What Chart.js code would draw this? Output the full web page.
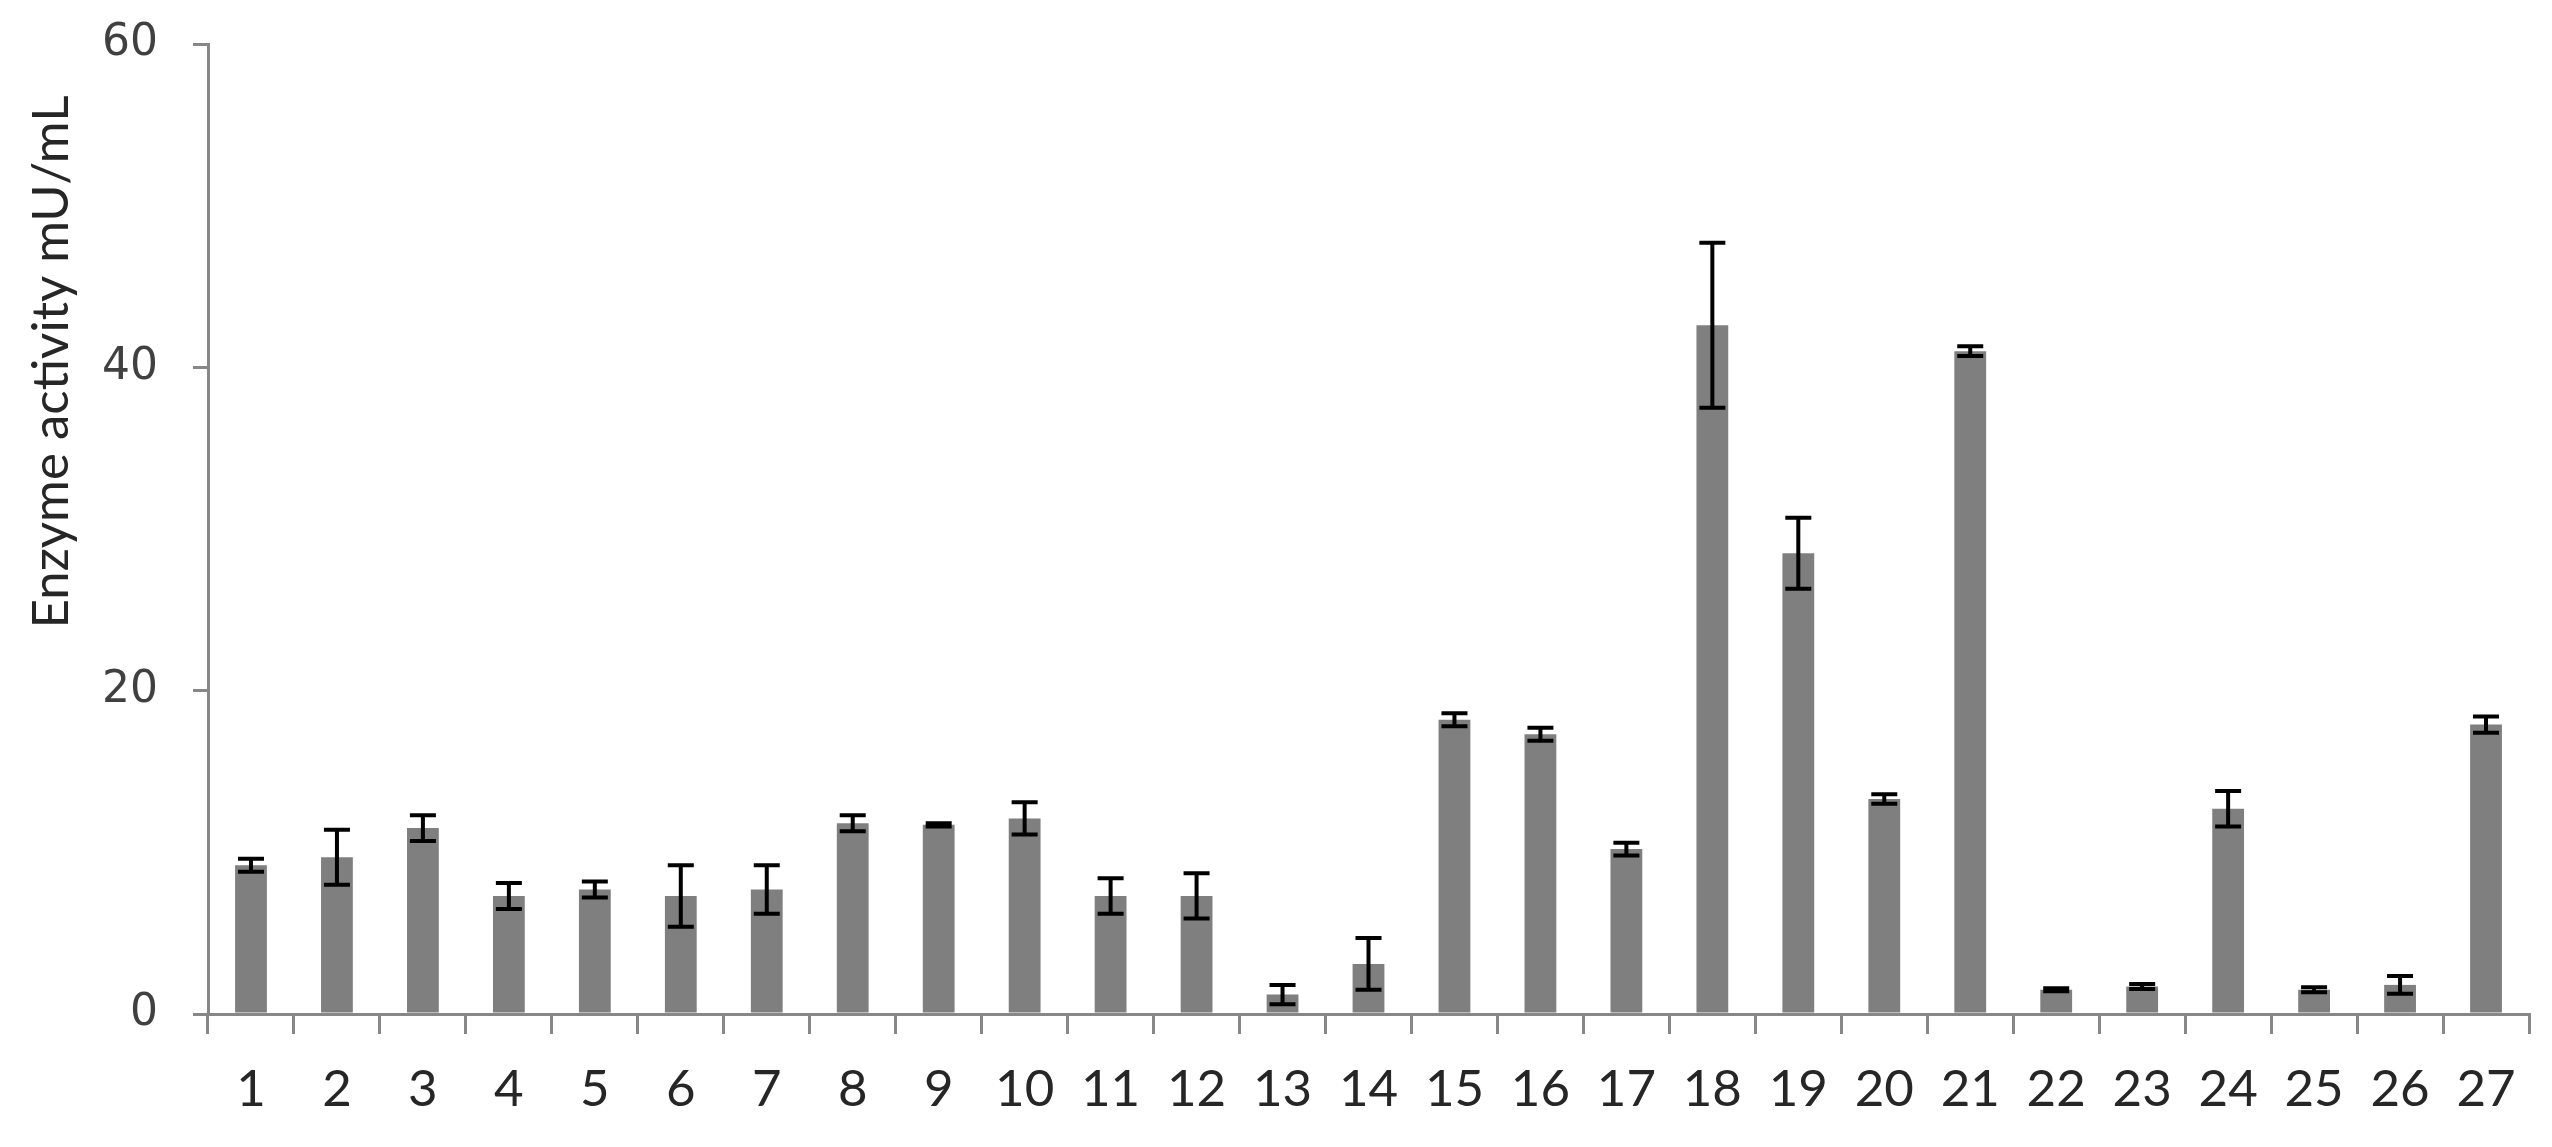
<!DOCTYPE html>
<html>
<head>
<meta charset="utf-8">
<script src="https://cdn.jsdelivr.net/npm/chart.js@4.4.1/dist/chart.umd.min.js"></script>
<style>
  html, body { margin: 0; padding: 0; background: #fff; }
  #wrap { width: 2552px; height: 1147px; }
</style>
</head>
<body>
<div id="wrap"><canvas id="enzymeChart"></canvas></div>
<script>
// strains 1..27, enzyme activity (mU/mL) with error
const strainLabels = ['1','2','3','4','5','6','7','8','9','10','11','12','13','14','15','16','17','18','19','20','21','22','23','24','25','26','27'];
const activity = [9.2, 9.7, 11.5, 7.3, 7.7, 7.3, 7.7, 11.8, 11.7, 12.1, 7.3, 7.3, 1.2, 3.1, 18.2, 17.3, 10.2, 42.6, 28.5, 13.3, 41.0, 1.5, 1.7, 12.7, 1.5, 1.8, 17.9];
const activityErr = [0.4, 1.7, 0.8, 0.8, 0.5, 1.9, 1.5, 0.5, 0.1, 1.0, 1.1, 1.4, 0.6, 1.6, 0.4, 0.4, 0.4, 5.1, 2.2, 0.3, 0.3, 0.1, 0.15, 1.1, 0.15, 0.55, 0.5];
const yTicks = [0, 20, 40, 60];
const yTitleText = 'Enzyme activity mU/mL';

const axisGray = '#878787';

// black error bars with caps
const errorBars = {
  id: 'errorBars',
  afterDatasetsDraw(chart) {
    const ctx = chart.ctx;
    const y = chart.scales.y;
    const meta = chart.getDatasetMeta(0);
    ctx.save();
    ctx.strokeStyle = '#000';
    ctx.lineWidth = 4;
    meta.data.forEach(function (bar, i) {
      let top = y.getPixelForValue(activity[i] + activityErr[i]);
      let bot = y.getPixelForValue(activity[i] - activityErr[i]);
      ctx.beginPath();
      ctx.moveTo(bar.x, top);
      ctx.lineTo(bar.x, bot);
      ctx.moveTo(bar.x - 13, top);
      ctx.lineTo(bar.x + 13, top);
      ctx.moveTo(bar.x - 13, bot);
      ctx.lineTo(bar.x + 13, bot);
      ctx.stroke();
    });
    ctx.restore();
  }
};

// y axis title sits higher than centre in the original
const yTitle = {
  id: 'yTitle',
  afterDraw(chart) {
    const ctx = chart.ctx;
    ctx.save();
    ctx.translate(52, 362);
    ctx.rotate(-Math.PI / 2);
    ctx.textAlign = 'center';
    ctx.textBaseline = 'middle';
    ctx.font = '51px Lato';
    ctx.fillStyle = '#262626';
    ctx.fillText(yTitleText, 0, 0);
    ctx.restore();
  }
};

const config = {
  type: 'bar',
  data: {
    labels: strainLabels,
    datasets: [{
      data: activity,
      backgroundColor: '#7f7f7f',
      borderWidth: 0,
      categoryPercentage: 1,
      barPercentage: 0.37
    }]
  },
  options: {
    responsive: true,
    maintainAspectRatio: false,
    animation: false,
    layout: { padding: { top: 44, right: 23, left: 0, bottom: 0 } },
    plugins: {
      legend: { display: false },
      tooltip: { enabled: false }
    },
    scales: {
      x: {
        grid: {
          display: true,
          drawOnChartArea: false,
          drawTicks: true,
          tickLength: 20,
          offset: true,
          color: axisGray,
          lineWidth: 3
        },
        border: { display: true, color: axisGray, width: 3 },
        ticks: {
          color: '#262626',
          font: { family: 'Lato', size: 51 },
          padding: 25,
          maxRotation: 0,
          autoSkip: false
        },
        afterFit: function (scale) { scale.height = 133; }
      },
      y: {
        min: 0,
        max: 60,
        afterBuildTicks: function (scale) {
          scale.ticks = yTicks.map(function (v) { return { value: v }; });
        },
        grid: {
          drawOnChartArea: false,
          drawTicks: true,
          tickLength: 15,
          color: axisGray,
          lineWidth: 3
        },
        border: { display: true, color: axisGray, width: 3 },
        ticks: {
          color: '#404040',
          font: { family: 'DejaVu Sans', size: 44 },
          padding: 35
        },
        afterFit: function (scale) {
          scale.width = 208;
          // label padding would push the plot top down
          scale.paddingTop = 0;
          scale.paddingBottom = 0;
        }
      }
    }
  },
  plugins: [errorBars, yTitle]
};

const ctx = document.getElementById('enzymeChart').getContext('2d');
new Chart(ctx, config);
</script>
</body>
</html>
